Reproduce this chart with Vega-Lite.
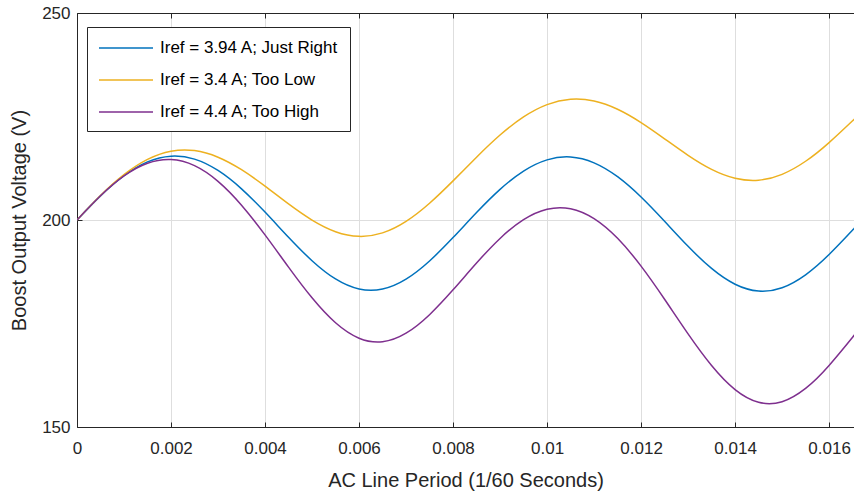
{
  "$schema": "https://vega.github.io/schema/vega-lite/v6.json",
  "width": 777,
  "height": 414,
  "autosize": {"type": "none"},
  "padding": {"left": 77, "top": 13, "right": 0, "bottom": 67},
  "background": "white",
  "config": {
    "view": {"stroke": null},
    "font": "Liberation Sans",
    "axis": {
      "domainColor": "#262626",
      "tickColor": "#262626",
      "labelColor": "#262626",
      "titleColor": "#262626",
      "labelFont": "Liberation Sans",
      "titleFont": "Liberation Sans",
      "titleFontWeight": "normal",
      "labelFontSize": 17,
      "titleFontSize": 20,
      "tickSize": -5,
      "gridColor": "#dedede",
      "gridOpacity": 1,
      "labelFlush": false,
      "labelOverlap": false
    },
    "legend": {
      "labelFont": "Liberation Sans",
      "labelFontSize": 17,
      "labelColor": "#000000",
      "labelLimit": 0
    }
  },
  "datasets": {
    "curves": [
      {"t": 0, "v": 200.0, "series": "Iref = 3.94 A; Just Right"},
      {"t": 0.0005, "v": 205.83, "series": "Iref = 3.94 A; Just Right"},
      {"t": 0.001, "v": 210.71, "series": "Iref = 3.94 A; Just Right"},
      {"t": 0.0015, "v": 214.04, "series": "Iref = 3.94 A; Just Right"},
      {"t": 0.002, "v": 215.42, "series": "Iref = 3.94 A; Just Right"},
      {"t": 0.0025, "v": 214.71, "series": "Iref = 3.94 A; Just Right"},
      {"t": 0.003, "v": 211.97, "series": "Iref = 3.94 A; Just Right"},
      {"t": 0.0035, "v": 207.53, "series": "Iref = 3.94 A; Just Right"},
      {"t": 0.004, "v": 201.91, "series": "Iref = 3.94 A; Just Right"},
      {"t": 0.0045, "v": 195.84, "series": "Iref = 3.94 A; Just Right"},
      {"t": 0.005, "v": 190.17, "series": "Iref = 3.94 A; Just Right"},
      {"t": 0.0055, "v": 185.76, "series": "Iref = 3.94 A; Just Right"},
      {"t": 0.006, "v": 183.34, "series": "Iref = 3.94 A; Just Right"},
      {"t": 0.0065, "v": 183.33, "series": "Iref = 3.94 A; Just Right"},
      {"t": 0.007, "v": 185.72, "series": "Iref = 3.94 A; Just Right"},
      {"t": 0.0075, "v": 190.10, "series": "Iref = 3.94 A; Just Right"},
      {"t": 0.008, "v": 195.75, "series": "Iref = 3.94 A; Just Right"},
      {"t": 0.0085, "v": 201.80, "series": "Iref = 3.94 A; Just Right"},
      {"t": 0.009, "v": 207.40, "series": "Iref = 3.94 A; Just Right"},
      {"t": 0.0095, "v": 211.82, "series": "Iref = 3.94 A; Just Right"},
      {"t": 0.01, "v": 214.53, "series": "Iref = 3.94 A; Just Right"},
      {"t": 0.0105, "v": 215.23, "series": "Iref = 3.94 A; Just Right"},
      {"t": 0.011, "v": 213.81, "series": "Iref = 3.94 A; Just Right"},
      {"t": 0.0115, "v": 210.46, "series": "Iref = 3.94 A; Just Right"},
      {"t": 0.012, "v": 205.55, "series": "Iref = 3.94 A; Just Right"},
      {"t": 0.0125, "v": 199.69, "series": "Iref = 3.94 A; Just Right"},
      {"t": 0.013, "v": 193.65, "series": "Iref = 3.94 A; Just Right"},
      {"t": 0.0135, "v": 188.30, "series": "Iref = 3.94 A; Just Right"},
      {"t": 0.014, "v": 184.48, "series": "Iref = 3.94 A; Just Right"},
      {"t": 0.0145, "v": 182.83, "series": "Iref = 3.94 A; Just Right"},
      {"t": 0.015, "v": 183.64, "series": "Iref = 3.94 A; Just Right"},
      {"t": 0.0155, "v": 186.77, "series": "Iref = 3.94 A; Just Right"},
      {"t": 0.016, "v": 191.67, "series": "Iref = 3.94 A; Just Right"},
      {"t": 0.0165, "v": 197.56, "series": "Iref = 3.94 A; Just Right"},
      {"t": 0.01653, "v": 197.92, "series": "Iref = 3.94 A; Just Right"},
      {"t": 0, "v": 200.0, "series": "Iref = 3.4 A; Too Low"},
      {"t": 0.0005, "v": 205.90, "series": "Iref = 3.4 A; Too Low"},
      {"t": 0.001, "v": 210.95, "series": "Iref = 3.4 A; Too Low"},
      {"t": 0.0015, "v": 214.63, "series": "Iref = 3.4 A; Too Low"},
      {"t": 0.002, "v": 216.61, "series": "Iref = 3.4 A; Too Low"},
      {"t": 0.0025, "v": 216.76, "series": "Iref = 3.4 A; Too Low"},
      {"t": 0.003, "v": 215.17, "series": "Iref = 3.4 A; Too Low"},
      {"t": 0.0035, "v": 212.15, "series": "Iref = 3.4 A; Too Low"},
      {"t": 0.004, "v": 208.18, "series": "Iref = 3.4 A; Too Low"},
      {"t": 0.0045, "v": 203.88, "series": "Iref = 3.4 A; Too Low"},
      {"t": 0.005, "v": 199.98, "series": "Iref = 3.4 A; Too Low"},
      {"t": 0.0055, "v": 197.18, "series": "Iref = 3.4 A; Too Low"},
      {"t": 0.006, "v": 196.05, "series": "Iref = 3.4 A; Too Low"},
      {"t": 0.0065, "v": 196.89, "series": "Iref = 3.4 A; Too Low"},
      {"t": 0.007, "v": 199.67, "series": "Iref = 3.4 A; Too Low"},
      {"t": 0.0075, "v": 204.05, "series": "Iref = 3.4 A; Too Low"},
      {"t": 0.008, "v": 209.45, "series": "Iref = 3.4 A; Too Low"},
      {"t": 0.0085, "v": 215.17, "series": "Iref = 3.4 A; Too Low"},
      {"t": 0.009, "v": 220.52, "series": "Iref = 3.4 A; Too Low"},
      {"t": 0.0095, "v": 224.90, "series": "Iref = 3.4 A; Too Low"},
      {"t": 0.01, "v": 227.87, "series": "Iref = 3.4 A; Too Low"},
      {"t": 0.0105, "v": 229.16, "series": "Iref = 3.4 A; Too Low"},
      {"t": 0.011, "v": 228.74, "series": "Iref = 3.4 A; Too Low"},
      {"t": 0.0115, "v": 226.75, "series": "Iref = 3.4 A; Too Low"},
      {"t": 0.012, "v": 223.53, "series": "Iref = 3.4 A; Too Low"},
      {"t": 0.0125, "v": 219.61, "series": "Iref = 3.4 A; Too Low"},
      {"t": 0.013, "v": 215.62, "series": "Iref = 3.4 A; Too Low"},
      {"t": 0.0135, "v": 212.23, "series": "Iref = 3.4 A; Too Low"},
      {"t": 0.014, "v": 210.09, "series": "Iref = 3.4 A; Too Low"},
      {"t": 0.0145, "v": 209.62, "series": "Iref = 3.4 A; Too Low"},
      {"t": 0.015, "v": 211.03, "series": "Iref = 3.4 A; Too Low"},
      {"t": 0.0155, "v": 214.19, "series": "Iref = 3.4 A; Too Low"},
      {"t": 0.016, "v": 218.70, "series": "Iref = 3.4 A; Too Low"},
      {"t": 0.0165, "v": 223.96, "series": "Iref = 3.4 A; Too Low"},
      {"t": 0.01653, "v": 224.29, "series": "Iref = 3.4 A; Too Low"},
      {"t": 0, "v": 200.0, "series": "Iref = 4.4 A; Too High"},
      {"t": 0.0005, "v": 205.84, "series": "Iref = 4.4 A; Too High"},
      {"t": 0.001, "v": 210.64, "series": "Iref = 4.4 A; Too High"},
      {"t": 0.0015, "v": 213.71, "series": "Iref = 4.4 A; Too High"},
      {"t": 0.002, "v": 214.60, "series": "Iref = 4.4 A; Too High"},
      {"t": 0.0025, "v": 213.13, "series": "Iref = 4.4 A; Too High"},
      {"t": 0.003, "v": 209.34, "series": "Iref = 4.4 A; Too High"},
      {"t": 0.0035, "v": 203.58, "series": "Iref = 4.4 A; Too High"},
      {"t": 0.004, "v": 196.40, "series": "Iref = 4.4 A; Too High"},
      {"t": 0.0045, "v": 188.62, "series": "Iref = 4.4 A; Too High"},
      {"t": 0.005, "v": 181.20, "series": "Iref = 4.4 A; Too High"},
      {"t": 0.0055, "v": 175.17, "series": "Iref = 4.4 A; Too High"},
      {"t": 0.006, "v": 171.45, "series": "Iref = 4.4 A; Too High"},
      {"t": 0.0065, "v": 170.60, "series": "Iref = 4.4 A; Too High"},
      {"t": 0.007, "v": 172.66, "series": "Iref = 4.4 A; Too High"},
      {"t": 0.0075, "v": 177.13, "series": "Iref = 4.4 A; Too High"},
      {"t": 0.008, "v": 183.13, "series": "Iref = 4.4 A; Too High"},
      {"t": 0.0085, "v": 189.61, "series": "Iref = 4.4 A; Too High"},
      {"t": 0.009, "v": 195.55, "series": "Iref = 4.4 A; Too High"},
      {"t": 0.0095, "v": 200.09, "series": "Iref = 4.4 A; Too High"},
      {"t": 0.01, "v": 202.61, "series": "Iref = 4.4 A; Too High"},
      {"t": 0.0105, "v": 202.73, "series": "Iref = 4.4 A; Too High"},
      {"t": 0.011, "v": 200.33, "series": "Iref = 4.4 A; Too High"},
      {"t": 0.0115, "v": 195.57, "series": "Iref = 4.4 A; Too High"},
      {"t": 0.012, "v": 188.86, "series": "Iref = 4.4 A; Too High"},
      {"t": 0.0125, "v": 180.86, "series": "Iref = 4.4 A; Too High"},
      {"t": 0.013, "v": 172.50, "series": "Iref = 4.4 A; Too High"},
      {"t": 0.0135, "v": 164.86, "series": "Iref = 4.4 A; Too High"},
      {"t": 0.014, "v": 159.04, "series": "Iref = 4.4 A; Too High"},
      {"t": 0.0145, "v": 155.97, "series": "Iref = 4.4 A; Too High"},
      {"t": 0.015, "v": 156.12, "series": "Iref = 4.4 A; Too High"},
      {"t": 0.0155, "v": 159.34, "series": "Iref = 4.4 A; Too High"},
      {"t": 0.016, "v": 164.88, "series": "Iref = 4.4 A; Too High"},
      {"t": 0.0165, "v": 171.68, "series": "Iref = 4.4 A; Too High"},
      {"t": 0.01653, "v": 172.11, "series": "Iref = 4.4 A; Too High"}
    ]
  },
  "data": {"name": "curves"},
  "layer": [
    {
      "mark": {"type": "line", "strokeWidth": 1.5, "interpolate": "natural", "clip": true},
      "encoding": {
        "x": {
          "field": "t",
          "type": "quantitative",
          "scale": {"domain": [0, 0.01653], "nice": false, "zero": false},
          "axis": {
            "orient": "bottom",
            "title": "AC Line Period (1/60 Seconds)",
            "values": [0, 0.002, 0.004, 0.006, 0.008, 0.01, 0.012, 0.014, 0.016],
            "format": "~g",
            "grid": true,
            "labelPadding": 18,
            "titlePadding": 14
          }
        },
        "y": {
          "field": "v",
          "type": "quantitative",
          "scale": {"domain": [150, 250], "nice": false, "zero": false},
          "axis": {
            "title": "Boost Output Voltage (V)",
            "values": [150, 200, 250],
            "grid": true,
            "labelPadding": 12,
            "titlePadding": 12
          }
        },
        "color": {
          "field": "series",
          "type": "nominal",
          "scale": {
            "domain": ["Iref = 3.94 A; Just Right", "Iref = 3.4 A; Too Low", "Iref = 4.4 A; Too High"],
            "range": ["#0072BD", "#EDB120", "#7E2F8E"]
          },
          "legend": {
            "title": null,
            "orient": "none",
            "legendX": 10,
            "legendY": 14,
            "symbolType": "M-3,0H3",
            "symbolSize": 324,
            "symbolStrokeWidth": 1.5,
            "symbolOffset": 18,
            "labelOffset": 24,
            "padding": 11,
            "rowPadding": 14,
            "strokeColor": "#262626",
            "fillColor": "white"
          }
        }
      }
    },
    {
      "mark": {"type": "line", "opacity": 0},
      "encoding": {
        "x": {
          "field": "t",
          "type": "quantitative",
          "axis": {
            "orient": "top",
            "title": null,
            "labels": false,
            "grid": false,
            "values": [0, 0.002, 0.004, 0.006, 0.008, 0.01, 0.012, 0.014, 0.016]
          }
        },
        "y": {"field": "v", "type": "quantitative"}
      }
    }
  ],
  "resolve": {"axis": {"x": "independent"}}
}
